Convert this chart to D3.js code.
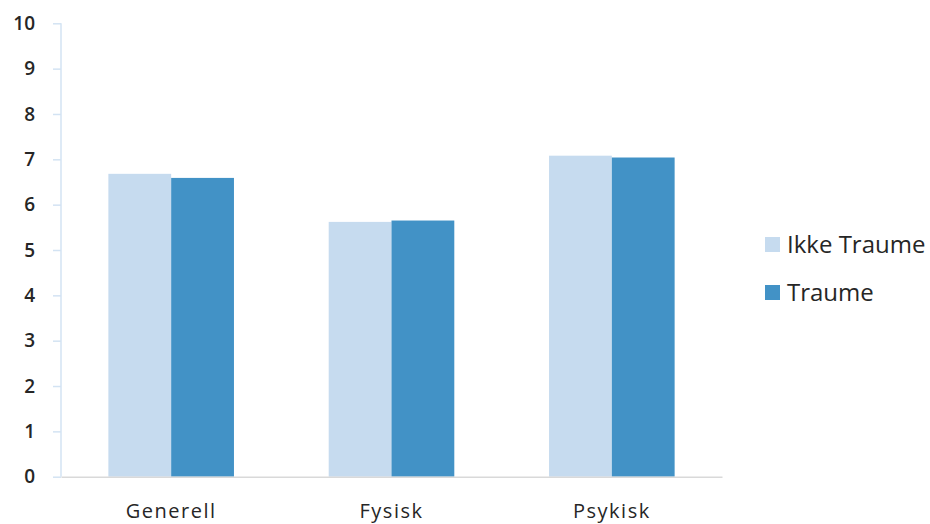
<!DOCTYPE html>
<html>
<head>
<meta charset="utf-8">
<script src="https://cdn.jsdelivr.net/npm/d3@7"></script>
<style>
  body { margin: 0; background: #fff; }
  text { font-family: "Open Sans", "Noto Sans", sans-serif; fill: #262626; }
</style>
</head>
<body>
<svg id="chart" width="930" height="524"></svg>
<script>
// data
var categories = ["Generell", "Fysisk", "Psykisk"];
var seriesNames = ["Ikke Traume", "Traume"];
var ikkeTraume = [6.68, 5.62, 7.08];
var traume = [6.59, 5.65, 7.04];
var yTicks = [0, 1, 2, 3, 4, 5, 6, 7, 8, 9, 10];
var colors = ["#c6dbef", "#4292c6"];

var svg = d3.select("#chart");
var margin = {left: 61, right: 208, top: 23.3, bottom: 47.3};
var width = 930 - margin.left - margin.right;
var height = 524 - margin.top - margin.bottom;

var g = svg.append("g").attr("transform", "translate(" + margin.left + "," + margin.top + ")");

var x0 = d3.scaleBand().domain(categories).range([0, width]).paddingInner(0.43).paddingOuter(0.215);
var x1 = d3.scaleBand().domain(seriesNames).range([0, x0.bandwidth()]);
var y = d3.scaleLinear().domain([0, 10]).range([height, 0]);

// build rows from the arrays
var rows = categories.map(function(c, i) {
  return {cat: c, vals: [ikkeTraume[i], traume[i]]};
});

// bars
var groups = g.selectAll(".grp").data(rows).enter().append("g")
  .attr("transform", function(d) { return "translate(" + x0(d.cat) + ",0)"; });

groups.selectAll("rect").data(function(d) {
    return d.vals.map(function(v, j) { return {name: seriesNames[j], v: v, j: j}; });
  }).enter().append("rect")
  .attr("x", function(d) { return x1(d.name); })
  .attr("width", x1.bandwidth())
  .attr("y", function(d) { return y(d.v); })
  .attr("height", function(d) { return height - y(d.v); })
  .attr("fill", function(d) { return colors[d.j]; });

// y axis
var yAxis = g.append("g").call(d3.axisLeft(y).tickValues(yTicks).tickSize(8).tickPadding(18));
yAxis.select(".domain").attr("stroke", "#d3e3f3").attr("stroke-width", 1.5)
  .attr("d", "M0," + height + "V0");
yAxis.selectAll(".tick line").attr("stroke", "#d3e3f3").attr("stroke-width", 1.5);
yAxis.selectAll(".tick text").style("font-size", "19px").style("font-weight", "600").attr("fill", "#262626");

// x axis
var xAxis = g.append("g").attr("transform", "translate(0," + height + ")")
  .call(d3.axisBottom(x0).tickSize(0).tickPadding(27));
xAxis.select(".domain").attr("stroke", "#d9d9d9").attr("stroke-width", 1.5);
xAxis.selectAll(".tick text").style("font-size", "20px").style("letter-spacing", "1.5px")
  .attr("fill", "#262626");

// legend
var legend = svg.append("g").attr("transform", "translate(765,245)");
var items = legend.selectAll("g").data(seriesNames).enter().append("g")
  .attr("transform", function(d, i) { return "translate(0," + (i * 48) + ")"; });
items.append("rect").attr("x", 0).attr("y", -8).attr("width", 15).attr("height", 15)
  .attr("fill", function(d, i) { return colors[i]; });
items.append("text").attr("x", 22).attr("y", 0).attr("dy", "0.35em")
  .style("font-size", "24px").attr("fill", "#404040").text(function(d) { return d; });
</script>
</body>
</html>
